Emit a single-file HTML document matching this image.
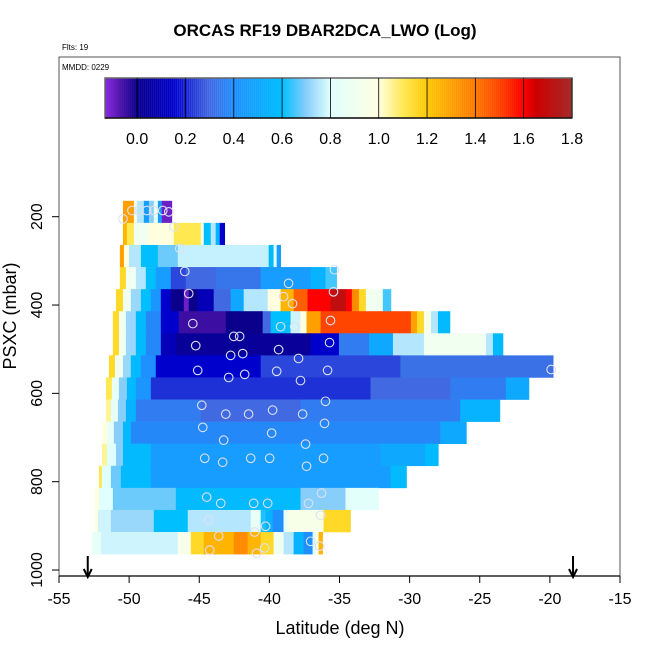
<!DOCTYPE html>
<html><head><meta charset="utf-8"><style>
body{margin:0;background:#fff;}
svg{display:block;font-family:"Liberation Sans",Arial,sans-serif;}
</style></head><body>
<svg id="chart" width="650" height="650" viewBox="0 0 650 650"></svg>
<script>
// ---- data ----
const rowPressures = [189,239,289,339,389,439,489,539,589,639,689,739,789,839,889,939];
const rowEdges = [
 [-50.44,-49.66,-49.45,-48.95,-48.59,-48.24,-47.95,-47.67,-46.96],
 [-50.44,-50.16,-49.66,-48.67,-46.81,-44.89,-44.68,-44.18,-43.83,-43.54,-43.19],
 [-50.66,-50.37,-50.02,-49.16,-47.95,-46.53,-40.05,-39.70,-39.48,-39.20],
 [-50.66,-50.23,-49.52,-48.81,-48.10,-47.03,-45.96,-43.83,-40.62,-37.06,-36.0,-35.21],
 [-50.94,-50.44,-49.88,-49.16,-48.45,-47.74,-47.03,-46.10,-45.75,-45.11,-43.97,-42.76,-41.83,-40.12,-39.20,-38.27,-37.28,-35.64,-34.55,-34.12,-33.62,-33.12,-31.91,-31.34],
 [-51.16,-50.73,-50.23,-49.52,-48.81,-47.74,-46.46,-43.11,-40.48,-39.91,-38.49,-37.78,-37.35,-36.35,-29.91,-29.48,-28.98,-28.48,-27.98,-27.13],
 [-51.16,-50.73,-50.23,-49.52,-48.81,-47.74,-46.67,-37.03,-35.04,-32.90,-31.19,-28.98,-24.56,-24.06,-23.35],
 [-51.44,-51.01,-50.44,-49.88,-49.16,-48.10,-40.62,-30.66,-19.77],
 [-51.65,-51.23,-50.73,-50.16,-49.52,-48.45,-32.79,-27.10,-23.14,-21.5],
 [-51.65,-51.30,-50.80,-50.23,-49.52,-44.89,-37.78,-26.39,-23.57],
 [-51.94,-51.58,-51.09,-50.44,-49.88,-27.81,-25.96],
 [-51.94,-51.58,-50.94,-50.44,-48.45,-32.08,-28.88,-27.96],
 [-52.15,-51.94,-51.30,-50.59,-48.45,-31.37,-30.23],
 [-52.44,-52.15,-51.16,-46.67,-37.78,-34.57,-32.22],
 [-52.44,-52.22,-51.30,-48.24,-45.82,-41.33,-40.62,-40.27,-39.77,-38.99,-38.70,-36.14,-34.22],
 [-52.65,-52.01,-46.53,-45.60,-44.68,-42.54,-41.55,-40.62,-39.70,-38.99,-38.27,-37.56,-36.92,-36.71,-36.49,-36.21]
];
const rowValues = [
 [1.3,1.0,0.75,0.45,0.7,0.85,0.45,-0.1],
 [1.25,1.1,0.9,1.0,1.1,0.95,0.6,0.75,0.55,0.15],
 [1.3,1.0,0.75,0.6,0.68,0.77,0.58,0.8,0.45],
 [1.15,0.9,0.75,0.6,0.45,0.25,0.3,0.33,0.45,0.55,0.65],
 [1.15,0.9,0.72,0.6,0.42,0.15,0.0,-0.1,0.0,0.1,0.3,0.5,0.75,1.0,1.25,1.45,1.6,1.7,1.6,1.35,1.15,0.9,0.65],
 [1.15,0.9,0.72,0.58,0.38,0.15,-0.05,0.0,0.3,0.6,0.78,1.0,1.3,1.5,1.3,1.15,0.95,0.75,0.58],
 [1.15,0.9,0.72,0.58,0.38,0.1,0.03,0.15,0.35,0.5,0.75,0.9,0.75,0.58],
 [1.15,0.9,0.72,0.58,0.4,0.15,0.25,0.32],
 [1.1,0.85,0.7,0.58,0.42,0.22,0.3,0.35,0.5],
 [1.05,0.85,0.7,0.55,0.35,0.3,0.35,0.55],
 [1.0,0.85,0.7,0.58,0.38,0.5],
 [1.05,0.8,0.7,0.58,0.45,0.5,0.58],
 [1.1,0.8,0.68,0.58,0.45,0.58],
 [1.0,0.8,0.68,0.58,0.7,0.82],
 [1.0,0.78,0.72,0.6,0.75,0.85,0.62,0.55,0.4,0.85,0.95,1.15],
 [0.85,0.78,0.95,1.15,1.25,1.35,1.25,1.15,0.9,0.75,0.55,0.4,0.8,0.95,1.25]
];
const pointLats = [-50.44,-49.80,-49.31,-48.74,-48.24,-47.60,-47.17,-46.81,-46.39,-46.03,-45.75,-45.46,-45.25,-45.11,-42.90,-42.54,-42.12,-41.90,-42.76,-41.76,-39.34,-37.92,-39.48,-37.78,-38.63,-38.99,-38.35,-39.20,-38.20,-35.36,-35.43,-35.64,-35.71,-35.85,-19.91,
 -44.82,-43.11,-41.48,-39.77,-37.63,-36.0,-44.75,-43.26,-39.84,-37.42,-36.07,-44.61,-43.33,-41.33,-39.98,-37.35,-36.14,-44.47,-43.47,-41.12,-40.12,-37.21,-36.28,-44.32,-40.27,-36.35,-43.61,-41.05,-37.06,-44.25,-40.34,-40.91,-36.42];
const pointPres = [205,186,186,186,186,186,189,223,272,324,374,442,492,548,564,471,471,510,514,557,501,521,550,571,351,381,397,449,449,320,370,435,485,548,546,
 627,647,647,638,647,618,677,706,690,715,668,747,756,747,747,765,747,835,849,849,849,849,826,887,901,876,923,914,935,955,950,962,946];
const xTicks = [-55,-50,-45,-40,-35,-30,-25,-20,-15];
const yTicks = [200,400,600,800,1000];
const cbTicks = [0.0,0.2,0.4,0.6,0.8,1.0,1.2,1.4,1.6,1.8];
const arrowLats = [-52.95,-18.35];

// ---- scales ----
const X0=59,X1=620,Y0=57,Y1=576;
const xs = v => X0 + (v+55)*(X1-X0)/40;
const ys = p => 216.7 + (p-200)*(570-216.7)/800;
const cbMin=-0.133, cbMax=1.8, cbL=105, cbR=572, cbT=78, cbB=118;
const cbx = v => cbL + (v-cbMin)*(cbR-cbL)/(cbMax-cbMin);
const stops=[[-0.133,[138,43,226]],[-0.07,[80,20,170]],[0.0,[10,0,140]],[0.15,[0,0,205]],[0.3,[65,105,225]],[0.4,[30,144,255]],[0.6,[0,191,255]],[0.7,[135,206,250]],[0.8,[224,255,255]],[1.0,[255,255,224]],[1.1,[255,232,80]],[1.2,[255,200,0]],[1.3,[255,160,0]],[1.4,[255,120,0]],[1.5,[255,69,0]],[1.6,[255,0,0]],[1.65,[205,0,0]],[1.8,[165,42,42]]];
function col(v){
  if(v<=stops[0][0]) return 'rgb('+stops[0][1]+')';
  for(let i=1;i<stops.length;i++){
    if(v<=stops[i][0]){const a=stops[i-1],b=stops[i],t=(v-a[0])/(b[0]-a[0]);
      return 'rgb('+a[1].map((c,k)=>Math.round(c+(b[1][k]-c)*t)).join(',')+')';}
  }
  return 'rgb('+stops[stops.length-1][1]+')';
}
const NS='http://www.w3.org/2000/svg', svg=document.getElementById('chart');
function el(t,a,p){const e=document.createElementNS(NS,t);for(const k in a)e.setAttribute(k,a[k]);(p||svg).appendChild(e);return e;}
function txt(s,a,p){const e=el('text',a,p);e.textContent=s;return e;}

// title
let t=txt('ORCAS RF19 DBAR2DCA_LWO (Log)',{x:325,y:36,'text-anchor':'middle','font-size':17,'font-weight':'bold'});


t=txt('Flts: 19',{x:62,y:50,'font-size':8});



// heatmap rows
const hm=el('g',{});


const rh=(ys(250)-ys(200));
rowPressures.forEach((p,r)=>{
  const e=rowEdges[r], v=rowValues[r];
  for(let i=0;i<v.length;i++){
    const x1=xs(e[i]),x2=xs(e[i+1]);
    const c=el('rect',{x:x1,y:ys(p)-rh/2,width:x2-x1+0.4,height:rh+0.3,fill:col(v[i])},hm);
    
    
  }
});
// points
const pg=el('g',{fill:'none',stroke:'#dde0f0','stroke-width':1.1});


pointLats.forEach((la,i)=>{
  const c=el('circle',{cx:xs(la),cy:ys(pointPres[i]),r:4.3},pg);
  
  
});

// frame
const fr=el('rect',{x:X0,y:Y0,width:X1-X0,height:Y1-Y0,fill:'none',stroke:'#555','stroke-width':1});


el('line',{x1:X0,y1:Y1,x2:X1,y2:Y1,stroke:'#000','stroke-width':1.2});
t=txt('MMDD: 0229',{x:62,y:70,'font-size':8});



// colorbar
const cb=el('g',{});


for(let i=0;i<233;i++){
  const v=cbMin+(i+0.5)*(cbMax-cbMin)/233;
  el('rect',{x:cbx(cbMin+i*(cbMax-cbMin)/233),y:cbT,width:2.1,height:cbB-cbT,fill:col(v)},cb);
}
el('rect',{x:cbL,y:cbT,width:cbR-cbL,height:cbB-cbT,fill:'none',stroke:'#666','stroke-width':1.5},cb);
cbTicks.forEach(v=>{
  el('line',{x1:cbx(v),x2:cbx(v),y1:cbT,y2:cbB,stroke:'#000','stroke-width':0.8},cb);
  const l=txt(v.toFixed(1),{x:cbx(v),y:144,'text-anchor':'middle','font-size':16},cb);
  
  
});
el('line',{x1:cbL,x2:cbR,y1:cbB,y2:cbB,stroke:'#000','stroke-width':1.2},cb);

// axes
const xa=el('g',{});


xTicks.forEach(v=>{
  el('line',{x1:xs(v),x2:xs(v),y1:Y1,y2:Y1+7,stroke:'#000'},xa);
  const l=txt(String(v),{x:xs(v),y:604,'text-anchor':'middle','font-size':16},xa);
  
  
});
t=txt('Latitude (deg N)',{x:340,y:634,'text-anchor':'middle','font-size':18});


const ya=el('g',{});


yTicks.forEach(v=>{
  el('line',{x1:X0,x2:X0-7,y1:ys(v),y2:ys(v),stroke:'#000'},ya);
  const l=txt(String(v),{x:42,y:ys(v),'text-anchor':'middle','font-size':16,transform:'rotate(-90 42 '+ys(v)+')'},ya);
  
  
});
t=txt('PSXC (mbar)',{x:16,y:316,'text-anchor':'middle','font-size':18,transform:'rotate(-90 16 316)'});



// arrows
arrowLats.forEach(la=>{
  const g=el('g',{stroke:'#000','stroke-width':2,fill:'none'});
  
  
  const x=xs(la);
  el('line',{x1:x,x2:x,y1:556,y2:576},g);
  el('polyline',{points:(x-4)+',569 '+x+',577 '+(x+4)+',569'},g);
});
</script>
</body></html>
